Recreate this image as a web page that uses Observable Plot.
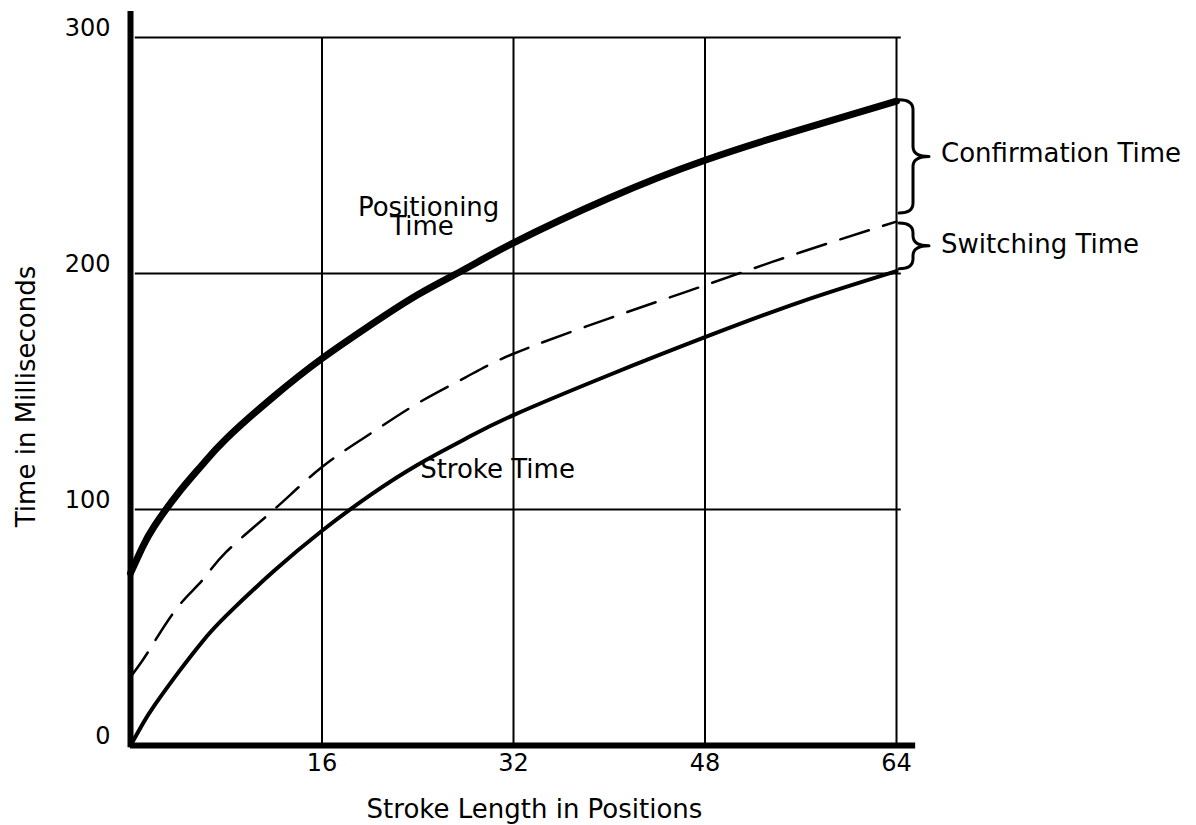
<!DOCTYPE html>
<html>
<head>
<meta charset="utf-8">
<script src="https://cdn.jsdelivr.net/npm/d3@7"></script>
<script src="https://cdn.jsdelivr.net/npm/@observablehq/plot@0.6"></script>
<style>
  html, body { margin: 0; padding: 0; background: #fff; }
</style>
</head>
<body>
<div id="chart"></div>
<script>
// Stroke length in positions (x) and read-off times in milliseconds (y)
const strokeLength    = [0, 1, 2, 4, 6, 8, 12, 16, 20, 24, 28, 32, 40, 48, 56, 64];
const positioningTime = [73, 84, 93, 107, 119, 130, 148, 164, 178, 191, 202, 213, 232, 248, 261, 273];
const switchingTop    = [29, 36, 44, 59, 70, 82, 100, 118, 132, 145, 156, 166, 181, 195, 209, 222];
const strokeTime      = [0, 9, 17, 31, 44, 55, 74, 91, 106, 119, 130, 140, 157, 173, 188, 201];

const xTicks = [16, 32, 48, 64];
const yTicks = [0, 100, 200, 300];
const yGrid  = [100, 200, 300];

const xTitle = "Stroke Length in Positions";
const yTitle = "Time in Milliseconds";

// curve labels (position in data units)
const curveLabels = [
  {x: 19.0, y: 224.5, text: "Positioning"},
  {x: 21.7, y: 216.5, text: "Time"},
  {x: 24.2, y: 113.5, text: "Stroke Time"}
];

const last = strokeLength.length - 1;
const braceSpans = [
  {top: positioningTime[last], bottom: switchingTop[last], dt: -1, db: -8, label: "Confirmation Time", dy: -4},
  {top: switchingTop[last], bottom: strokeTime[last], dt: 2, db: -2, label: "Switching Time", dy: -2}
];

const rows = (ys) => strokeLength.map((x, i) => ({x, y: ys[i]}));

function braces(index, scales) {
  const x = scales.x, y = scales.y;
  const g = d3.create("svg:g")
    .attr("fill", "none")
    .attr("stroke", "black")
    .attr("stroke-width", 3)
    .attr("stroke-linecap", "round")
    .attr("stroke-linejoin", "round");
  for (const b of braceSpans) {
    const xl = x(64) + 3, xm = xl + 14, xt = xl + 30;
    const yt = y(b.top) + b.dt, yb = y(b.bottom) + b.db, ym = (yt + yb) / 2;
    const r = Math.min(10, (yb - yt) / 4);
    const p = d3.path();
    p.moveTo(xl, yt);
    p.quadraticCurveTo(xm, yt, xm, yt + r);
    p.lineTo(xm, ym - r);
    p.quadraticCurveTo(xm, ym, xt, ym);
    p.quadraticCurveTo(xm, ym, xm, ym + r);
    p.lineTo(xm, yb - r);
    p.quadraticCurveTo(xm, yb, xl, yb);
    g.append("path").attr("d", p.toString());
    g.append("text")
      .attr("x", xt + 12)
      .attr("y", ym + b.dy)
      .attr("dy", "0.36em")
      .attr("text-anchor", "start")
      .attr("fill", "black")
      .attr("stroke", "none")
      .attr("font-size", 26)
      .attr("font-family", "DejaVu Sans")
      .text(b.label);
  }
  return g.node();
}

const chart = Plot.plot({
  width: 1196,
  height: 825,
  marginLeft: 130,
  marginRight: 300,
  marginTop: 37,
  marginBottom: 80,
  x: {domain: [0, 64], axis: null},
  y: {domain: [0, 300], axis: null},
  style: {fontFamily: "DejaVu Sans", background: "white", color: "black", overflow: "visible"},
  marks: [
    // grid
    Plot.ruleX(xTicks, {y1: 0, y2: 300, stroke: "black", strokeWidth: 2}),
    Plot.ruleY(yGrid, {x1: 0.4, x2: 64.4, stroke: "black", strokeWidth: 2}),
    // axes
    Plot.ruleX([0], {y1: -1, y2: 311, stroke: "black", strokeWidth: 6}),
    Plot.ruleY([0], {x1: 0, x2: 65.6, stroke: "black", strokeWidth: 6}),
    // curves
    Plot.line(rows(strokeTime), {x: "x", y: "y", curve: "natural", stroke: "black", strokeWidth: 4, strokeLinecap: "round"}),
    Plot.line(rows(switchingTop), {x: "x", y: "y", curve: "natural", stroke: "black", strokeWidth: 2.5, strokeDasharray: "30,15"}),
    Plot.line(rows(positioningTime), {x: "x", y: "y", curve: "natural", stroke: "black", strokeWidth: 7, strokeLinecap: "round"}),
    // tick labels
    Plot.text(yTicks, {x: 0, y: d => d, text: d => String(d), textAnchor: "end", dx: -20, dy: -9, fontSize: 24, fill: "black"}),
    Plot.text(xTicks, {x: d => d, y: 0, text: d => String(d), lineAnchor: "top", dy: 8, fontSize: 24, fill: "black"}),
    // axis titles
    Plot.text([xTitle], {frameAnchor: "bottom", text: d => d, textAnchor: "middle", lineAnchor: "middle", dx: 21, dy: 64, fontSize: 26, fill: "black"}),
    Plot.text([yTitle], {frameAnchor: "left", text: d => d, textAnchor: "middle", rotate: -90, lineAnchor: "middle", dx: -104, dy: 5, fontSize: 26, fill: "black"}),
    // curve labels
    Plot.text(curveLabels, {x: "x", y: "y", text: "text", textAnchor: "start", lineAnchor: "bottom", fontSize: 26, fill: "black"}),
    // braces and their labels
    braces
  ]
});

document.getElementById("chart").appendChild(chart);
</script>
</body>
</html>
